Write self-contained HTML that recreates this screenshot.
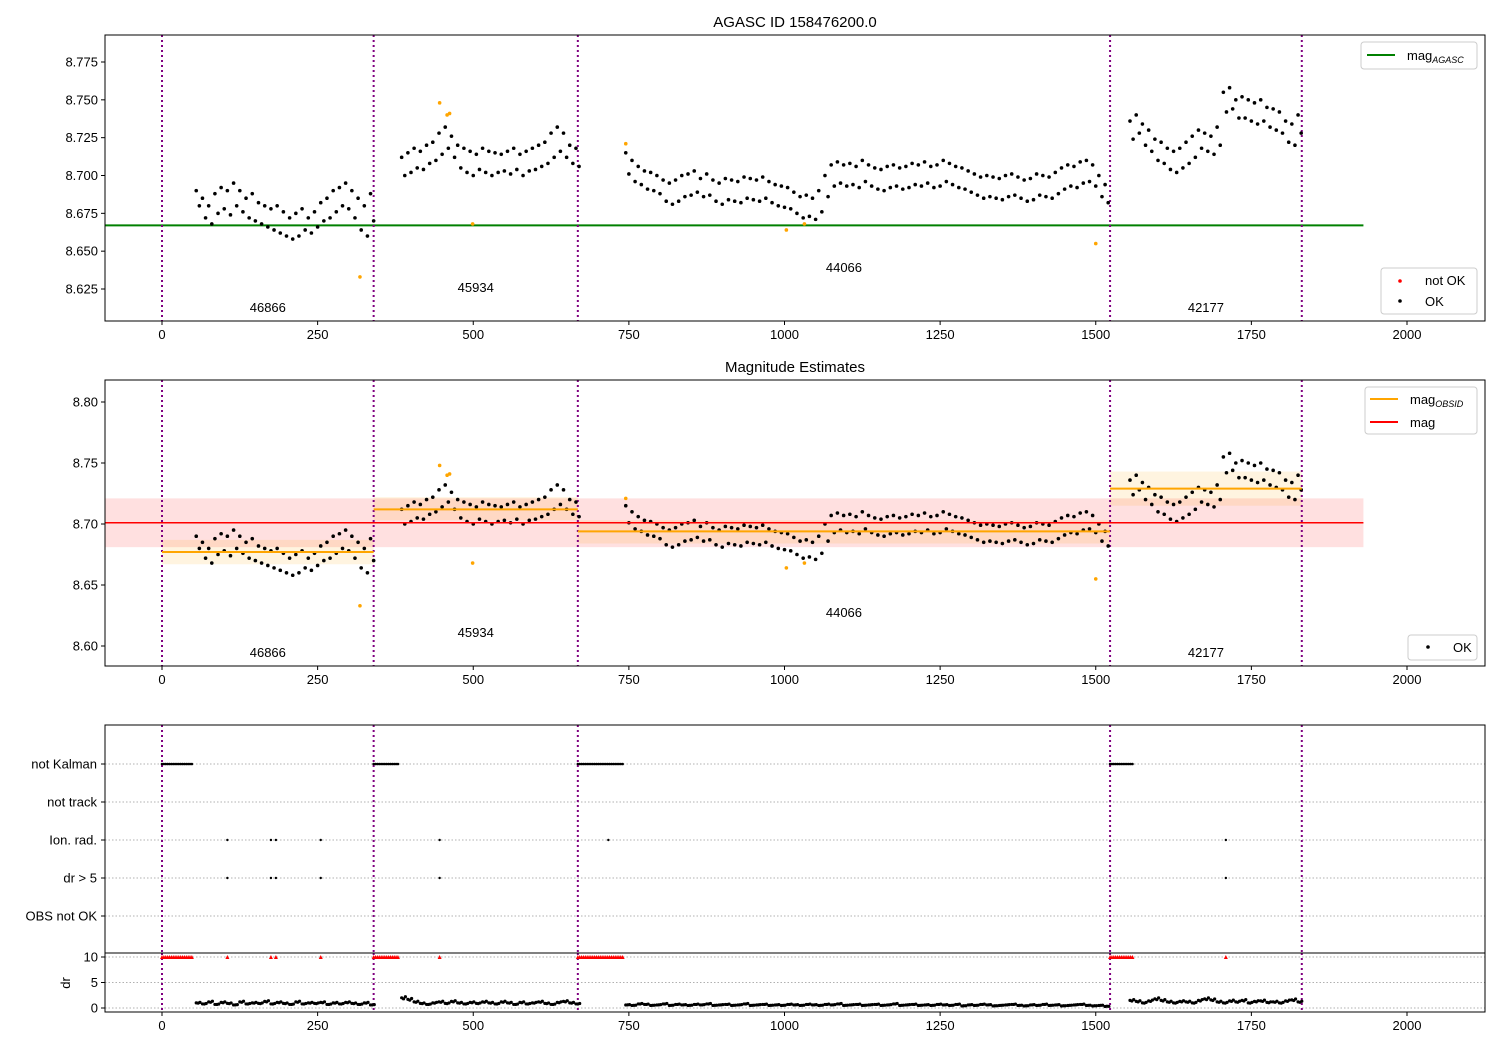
<!DOCTYPE html>
<html><head><meta charset="utf-8">
<style>
html,body{margin:0;padding:0;background:#fff;}
svg{display:block;font-family:"Liberation Sans","DejaVu Sans",sans-serif;}
</style></head>
<body>
<svg id="c" width="1500" height="1050" xmlns="http://www.w3.org/2000/svg"></svg>
<script>
// ---------- data ----------
const obsids = ["46866","45934","44066","42177"];
const obsStarts = [0, 340, 668, 1523, 1831];
const agascMag = 8.667;
const meanMag = 8.701, meanLo = 8.681, meanHi = 8.721;
const obsMag = [8.677, 8.712, 8.694, 8.729];
const obsLo = [8.667, 8.703, 8.684, 8.715];
const obsHi = [8.687, 8.722, 8.703, 8.743];

const t1 = [55,65,75,85,95,105,115,125,135,145,155,165,175,185,195,205,215,225,235,245,255,265,275,285,295,305,315,325,335];
const m1a = [8.690,8.685,8.680,8.688,8.692,8.690,8.695,8.690,8.685,8.688,8.682,8.680,8.678,8.680,8.676,8.672,8.675,8.678,8.672,8.676,8.682,8.685,8.690,8.692,8.695,8.690,8.685,8.680,8.688];
const m1b = [8.680,8.672,8.668,8.675,8.678,8.674,8.680,8.676,8.672,8.670,8.668,8.666,8.664,8.662,8.660,8.658,8.660,8.664,8.662,8.666,8.670,8.672,8.676,8.680,8.678,8.672,8.664,8.660,8.670];
const t2 = [385,395,405,415,425,435,445,455,465,475,485,495,505,515,525,535,545,555,565,575,585,595,605,615,625,635,645,655,665];
const m2a = [8.712,8.715,8.718,8.716,8.720,8.722,8.728,8.732,8.726,8.720,8.718,8.716,8.714,8.718,8.716,8.715,8.714,8.716,8.718,8.714,8.716,8.718,8.720,8.722,8.728,8.732,8.728,8.720,8.718];
const m2b = [8.700,8.702,8.705,8.704,8.708,8.710,8.714,8.718,8.712,8.705,8.702,8.700,8.704,8.702,8.700,8.702,8.703,8.701,8.704,8.700,8.703,8.704,8.706,8.708,8.712,8.716,8.712,8.708,8.706];
const t3 = [745,755,765,775,785,795,805,815,825,835,845,855,865,875,885,895,905,915,925,935,945,955,965,975,985,995,1005,1015,1025,1035,1045,1055,1065,1075,1085,1095,1105,1115,1125,1135,1145,1155,1165,1175,1185,1195,1205,1215,1225,1235,1245,1255,1265,1275,1285,1295,1305,1315,1325,1335,1345,1355,1365,1375,1385,1395,1405,1415,1425,1435,1445,1455,1465,1475,1485,1495,1505,1515];
const m3a = [8.715,8.710,8.706,8.703,8.702,8.700,8.697,8.695,8.697,8.700,8.701,8.703,8.698,8.701,8.697,8.695,8.698,8.697,8.696,8.699,8.698,8.697,8.699,8.696,8.694,8.693,8.692,8.689,8.686,8.687,8.685,8.690,8.700,8.707,8.709,8.707,8.708,8.706,8.710,8.707,8.705,8.704,8.706,8.707,8.705,8.706,8.708,8.707,8.709,8.706,8.707,8.710,8.708,8.706,8.705,8.703,8.701,8.699,8.700,8.699,8.698,8.700,8.701,8.699,8.697,8.698,8.701,8.700,8.699,8.702,8.705,8.707,8.706,8.709,8.710,8.707,8.700,8.694];
const m3b = [8.701,8.696,8.694,8.691,8.690,8.688,8.683,8.681,8.683,8.686,8.687,8.689,8.686,8.687,8.683,8.681,8.684,8.683,8.682,8.685,8.684,8.683,8.685,8.682,8.680,8.679,8.678,8.675,8.672,8.673,8.671,8.676,8.686,8.693,8.695,8.693,8.694,8.692,8.696,8.693,8.691,8.690,8.692,8.693,8.691,8.692,8.694,8.693,8.695,8.692,8.693,8.696,8.694,8.692,8.691,8.689,8.687,8.685,8.686,8.685,8.684,8.686,8.687,8.685,8.683,8.684,8.687,8.686,8.685,8.688,8.691,8.693,8.692,8.695,8.696,8.693,8.686,8.682];
const t4 = [1555,1565,1575,1585,1595,1605,1615,1625,1635,1645,1655,1665,1675,1685,1695,1705,1715,1725,1735,1745,1755,1765,1775,1785,1795,1805,1815,1825];
const m4a = [8.736,8.740,8.734,8.730,8.724,8.722,8.718,8.716,8.718,8.722,8.726,8.730,8.728,8.726,8.732,8.755,8.758,8.750,8.752,8.750,8.748,8.750,8.745,8.744,8.742,8.736,8.734,8.740];
const m4b = [8.724,8.728,8.720,8.716,8.710,8.708,8.704,8.702,8.705,8.708,8.712,8.718,8.716,8.714,8.720,8.742,8.744,8.738,8.738,8.736,8.734,8.736,8.732,8.730,8.728,8.722,8.720,8.728];
const dr1 = [1.0,0.8,1.2,0.7,1.1,0.9,0.6,1.2,0.8,1.0,0.9,1.3,0.8,1.1,0.9,0.7,1.2,0.8,1.0,0.9,1.1,0.7,1.0,0.8,1.1,0.9,0.7,1.0,0.6];
const dr2 = [2.0,1.7,1.2,0.9,0.7,1.0,1.2,0.9,1.3,1.0,0.8,1.1,0.9,1.2,1.0,0.8,1.2,1.0,0.7,1.1,0.8,1.0,1.2,0.9,0.7,1.1,1.3,1.0,0.8];
const dr3 = [0.6,0.5,0.8,0.7,0.5,0.6,0.8,0.5,0.7,0.6,0.5,0.7,0.6,0.8,0.5,0.6,0.7,0.5,0.6,0.8,0.5,0.6,0.7,0.5,0.6,0.5,0.7,0.6,0.5,0.7,0.6,0.5,0.7,0.6,0.8,0.5,0.6,0.7,0.5,0.6,0.7,0.5,0.6,0.8,0.5,0.6,0.7,0.5,0.6,0.5,0.7,0.6,0.5,0.7,0.4,0.6,0.5,0.7,0.6,0.4,0.5,0.6,0.7,0.5,0.4,0.6,0.5,0.7,0.5,0.6,0.4,0.5,0.6,0.7,0.5,0.4,0.5,0.3];
const dr4 = [1.5,1.3,1.0,1.4,1.8,1.5,1.2,1.0,1.3,1.2,1.0,1.5,1.8,1.6,1.2,1.0,1.4,1.2,1.5,1.0,1.3,1.4,1.1,1.2,1.0,1.4,1.6,1.2];
const badT = [318,446,458,462,499,745,1003,1032,1500];
const badM = [8.633,8.748,8.740,8.741,8.668,8.721,8.664,8.668,8.655];
const kalmanRanges = [[0,48],[340,380],[668,740],[1523,1560]];
const ionT = [105,175,183,255,446,717,1709];
const drBigT = [105,175,183,255,446,1709];
const flagCats = ["not Kalman","not track","Ion. rad.","dr > 5","OBS not OK"];
const xTicks = [0,250,500,750,1000,1250,1500,1750,2000];
const y1Ticks = [8.625,8.650,8.675,8.700,8.725,8.750,8.775];
const y2Ticks = [8.60,8.65,8.70,8.75,8.80];
const y4Ticks = [0,5,10];

// ---------- geometry ----------
const NS="http://www.w3.org/2000/svg";
const svg=document.getElementById('c');
const L=105,R=1485;
const X=v=>162+(v)*(1407-162)/2000;
const ax1={t:35,b:321}, ax2={t:380,b:666}, ax3={t:725,b:953}, ax4={t:953,b:1012};
const Y1=v=>62+(8.775-v)*1513.3;
const Y2=v=>402+(8.80-v)*1220;
const Y3=i=>764+i*38;
const Y4=v=>1008-v*5.1;
function el(tag,attrs,parent){const e=document.createElementNS(NS,tag);for(const k in attrs)e.setAttribute(k,attrs[k]);(parent||svg).appendChild(e);return e;}
function txt(x,y,s,anchor,size,parent){const e=el('text',{x:x,y:y,'text-anchor':anchor||'middle','font-size':size||13,fill:'#000'},parent);e.textContent=s;return e;}

const allT=[t1,t2,t3,t4], allA=[m1a,m2a,m3a,m4a], allB=[m1b,m2b,m3b,m4b], allDr=[dr1,dr2,dr3,dr4];

function frame(ax,name){
  const r=el('rect',{x:L,y:ax.t,width:R-L,height:ax.b-ax.t,fill:'none',stroke:'#000','stroke-width':1});
  
  
}
function xAxis(ax,labels,name){
  const g=el('g',{});
  
  
  xTicks.forEach(v=>{el('line',{x1:X(v),x2:X(v),y1:ax.b,y2:ax.b+4,stroke:'#000'},g);if(labels)txt(X(v),ax.b+18,String(v),'middle',13,g);});
}
function yAxis(ticks,Y,fmt,name){
  const g=el('g',{});
  
  
  ticks.forEach(v=>{el('line',{x1:L-4,x2:L,y1:Y(v),y2:Y(v),stroke:'#000'},g);txt(L-7,Y(v)+4.5,fmt(v),'end',13,g);});
}
function vlines(ax,name){
  const g=el('g',{});
  
  
  obsStarts.forEach(v=>el('line',{x1:X(v),x2:X(v),y1:ax.t,y2:ax.b,stroke:'#800080','stroke-width':2,'stroke-dasharray':'2,3'},g));
}
function dots(Y,name){
  const g=el('g',{});
  
  
  for(let s=0;s<4;s++){allT[s].forEach((t,i)=>{
    el('circle',{cx:X(t),cy:Y(allA[s][i]),r:1.8,fill:'#000'},g);
    el('circle',{cx:X(t+5),cy:Y(allB[s][i]),r:1.8,fill:'#000'},g);
  });}
  badT.forEach((t,i)=>el('circle',{cx:X(t),cy:Y(badM[i]),r:1.8,fill:'orange'},g));
}
function obsLabels(Y,ys,name){
  const g=el('g',{});
  
  
  obsids.forEach((o,i)=>txt((X(obsStarts[i])+X(obsStarts[i+1]))/2,ys[i],o,'middle',13,g));
}

// ---------- panel 1 ----------
txt(795,27,"AGASC ID 158476200.0",'middle',15);
const gl=el('line',{x1:X(-92),x2:X(1930),y1:Y1(agascMag),y2:Y1(agascMag),stroke:'green','stroke-width':2});


vlines(ax1,'obs-boundaries-1');
dots(Y1,'mag-points-1');
obsLabels(Y1,[312,292,272,312],'obsid-labels-1');
frame(ax1,'axes-1');
xAxis(ax1,true,'x-axis-1');
yAxis(y1Ticks,Y1,v=>v.toFixed(3),'y-axis-1');

(function(){
  const g=el('g',{});
  el('rect',{x:1361,y:42,width:116,height:27,rx:3,fill:'#fff',stroke:'#ccc'},g);
  el('line',{x1:1367,x2:1395,y1:55,y2:55,stroke:'green','stroke-width':2},g);
  const t=txt(1407,60,'mag','start',13,g);
  const s=el('tspan',{'font-size':9,'font-style':'italic',dy:3},t);s.textContent='AGASC';
  const g2=el('g',{});
  el('rect',{x:1381,y:268,width:96,height:46,rx:3,fill:'#fff',stroke:'#ccc'},g2);
  el('circle',{cx:1400,cy:281,r:1.8,fill:'red'},g2);txt(1425,285,'not OK','start',13,g2);
  el('circle',{cx:1400,cy:301,r:1.8,fill:'#000'},g2);txt(1425,306,'OK','start',13,g2);
})();

// ---------- panel 2 ----------
txt(795,372,"Magnitude Estimates",'middle',15);
(function(){
  const g=el('g',{});
  el('rect',{x:X(-92),y:Y2(meanHi),width:X(1930)-X(-92),height:Y2(meanLo)-Y2(meanHi),fill:'rgba(255,0,0,0.12)'},g);
  const go=el('g',{});
  for(let i=0;i<4;i++){
    el('rect',{x:X(obsStarts[i]),y:Y2(obsHi[i]),width:X(obsStarts[i+1])-X(obsStarts[i]),height:Y2(obsLo[i])-Y2(obsHi[i]),fill:'rgba(255,165,0,0.12)'},go);
  }
})();
vlines(ax2,'obs-boundaries-2');
dots(Y2,'mag-points-2');
(function(){
  const g=el('g',{});
  for(let i=0;i<4;i++)el('line',{x1:X(obsStarts[i]),x2:X(obsStarts[i+1]),y1:Y2(obsMag[i]),y2:Y2(obsMag[i]),stroke:'orange','stroke-width':2},g);
  const r=el('line',{x1:X(-92),x2:X(1930),y1:Y2(meanMag),y2:Y2(meanMag),stroke:'red','stroke-width':1.5});
  
})();
obsLabels(Y2,[657,637,617,657],'obsid-labels-2');
frame(ax2,'axes-2');
xAxis(ax2,true,'x-axis-2');
yAxis(y2Ticks,Y2,v=>v.toFixed(2),'y-axis-2');
(function(){
  const g=el('g',{});
  el('rect',{x:1365,y:387,width:112,height:47,rx:3,fill:'#fff',stroke:'#ccc'},g);
  el('line',{x1:1370,x2:1398,y1:399,y2:399,stroke:'orange','stroke-width':2},g);
  const t=txt(1410,404,'mag','start',13,g);
  const s=el('tspan',{'font-size':9,'font-style':'italic',dy:3},t);s.textContent='OBSID';
  el('line',{x1:1370,x2:1398,y1:422,y2:422,stroke:'red','stroke-width':2},g);
  txt(1410,427,'mag','start',13,g);
  const g2=el('g',{});
  el('rect',{x:1408,y:635,width:69,height:25,rx:3,fill:'#fff',stroke:'#ccc'},g2);
  el('circle',{cx:1428,cy:647,r:1.8,fill:'#000'},g2);txt(1453,652,'OK','start',13,g2);
})();

// ---------- panel 3: flags ----------
(function(){
  const g=el('g',{});
  flagCats.forEach((c,i)=>{
    el('line',{x1:L,x2:R,y1:Y3(i),y2:Y3(i),stroke:'#b0b0b0','stroke-dasharray':'1.5,2'},g);
    el('line',{x1:L-4,x2:L,y1:Y3(i),y2:Y3(i),stroke:'#000'},g);
    txt(L-8,Y3(i)+4.5,c,'end',13,g);
  });
  y4Ticks.forEach(v=>el('line',{x1:L,x2:R,y1:Y4(v),y2:Y4(v),stroke:'#b0b0b0','stroke-dasharray':'1.5,2'},g));
})();
vlines(ax3,'obs-boundaries-3');
vlines(ax4,'obs-boundaries-4');
(function(){
  const g=el('g',{});
  kalmanRanges.forEach(r=>{for(let t=r[0];t<=r[1];t+=3){
    el('circle',{cx:X(t),cy:Y3(0),r:1.3,fill:'#000'},g);
    el('path',{d:`M${X(t)-2},${Y4(10)+2}L${X(t)+2},${Y4(10)+2}L${X(t)},${Y4(10)-2}Z`,fill:'red'},g);
  }});
  ionT.forEach(t=>el('circle',{cx:X(t),cy:Y3(2),r:1.2,fill:'#000'},g));
  drBigT.forEach(t=>{el('circle',{cx:X(t),cy:Y3(3),r:1.2,fill:'#000'},g);
    el('path',{d:`M${X(t)-2},${Y4(10)+2}L${X(t)+2},${Y4(10)+2}L${X(t)},${Y4(10)-2}Z`,fill:'red'},g);});
})();
frame(ax3,'axes-flags');

// ---------- panel 4: dr ----------
(function(){
  const g=el('g',{});
  for(let s=0;s<4;s++)allT[s].forEach((t,i)=>{
    el('circle',{cx:X(t),cy:Y4(allDr[s][i]),r:1.6,fill:'#000'},g);
    el('circle',{cx:X(t+3),cy:Y4(allDr[s][i]*0.85+0.1),r:1.6,fill:'#000'},g);
    el('circle',{cx:X(t+6),cy:Y4(allDr[s][i]*1.1),r:1.6,fill:'#000'},g);
  });
})();
frame(ax4,'axes-dr');
xAxis(ax4,true,'x-axis-4');
yAxis(y4Ticks,Y4,v=>String(v),'y-axis-dr');
(function(){const t=el('text',{x:70,y:983,'font-size':13,'text-anchor':'middle',transform:'rotate(-90 70 983)'});t.textContent='dr';
})();
</script>
</body></html>
